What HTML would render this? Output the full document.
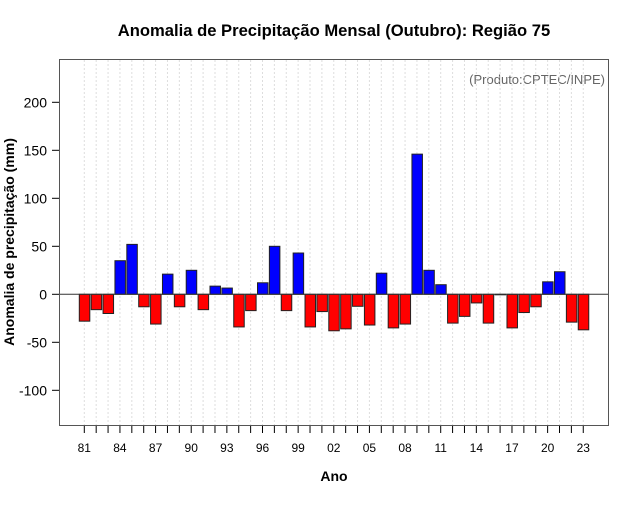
<!DOCTYPE html>
<html><head><meta charset="utf-8"><style>
body{margin:0;background:#fff;font-family:"Liberation Sans",sans-serif}
svg text{font-family:"Liberation Sans",sans-serif}
</style></head><body>
<svg id="chart" width="640" height="500" viewBox="0 0 640 500" xmlns="http://www.w3.org/2000/svg">
<rect width="640" height="500" fill="#fff"/>
<text x="334" y="36" text-anchor="middle" font-size="16.6" font-weight="bold">Anomalia de Precipitação Mensal (Outubro): Região 75</text>
<text x="605" y="84" text-anchor="end" font-size="13" fill="#666">(Produto:CPTEC/INPE)</text>
<text x="334" y="481" text-anchor="middle" font-size="14" font-weight="bold">Ano</text>
<text transform="translate(14,242) rotate(-90)" text-anchor="middle" font-size="14" font-weight="bold">Anomalia de precipitação (mm)</text>
<g id="grid"></g><g id="bars"></g><g id="axes"></g>
<rect x="59.5" y="59.5" width="549" height="366" fill="none" stroke="#555" stroke-width="1"/>
</svg>
<script>
const years=[1981,1982,1983,1984,1985,1986,1987,1988,1989,1990,1991,1992,1993,1994,1995,1996,1997,1998,1999,2000,2001,2002,2003,2004,2005,2006,2007,2008,2009,2010,2011,2012,2013,2014,2015,2016,2017,2018,2019,2020,2021,2022,2023];
const anomalies=[-28,-16,-20,35,52,-13,-31,21,-13,25,-16,8.5,6.5,-34,-17,12,50,-17,43,-34,-18,-38,-36,-12.5,-32,22,-35,-31,146,25,10,-30,-23,-9,-30,-0.5,-35,-19,-13,13,23.5,-29,-37];
const yTicks=[-100,-50,0,50,100,150,200];
const xTickLabels=["81","84","87","90","93","96","99","02","05","08","11","14","17","20","23"];
const NS="http://www.w3.org/2000/svg";
const x=y=>84.3+(y-1981)*11.88;
const yS=v=>294.3-v*0.96;
function mk(t,a,p){const e=document.createElementNS(NS,t);for(const k in a)e.setAttribute(k,a[k]);document.getElementById(p).appendChild(e);return e;}
years.forEach(yr=>{
  const g=mk('line',{x1:x(yr),x2:x(yr),y1:60,y2:425,stroke:'#ddd','stroke-dasharray':'2,2'},'grid');
  
  
  const t=mk('line',{x1:x(yr),x2:x(yr),y1:426,y2:433,stroke:'#000'},'axes');
  
  
});
years.forEach((yr,i)=>{
  const v=anomalies[i];
  const y0=yS(0),y1=yS(v);
  const r=mk('rect',{x:x(yr)-5,y:Math.min(y0,y1),width:10.5,height:Math.max(Math.abs(y1-y0),0.5),fill:v>=0?'#0000ff':'#ff0000',stroke:'#222','stroke-width':1},'bars');
  
  
});
const z=mk('line',{x1:60,x2:608,y1:yS(0),y2:yS(0),stroke:'#333'},'axes');


yTicks.forEach(v=>{
  const t=mk('line',{x1:52,x2:59,y1:yS(v),y2:yS(v),stroke:'#000'},'axes');
  
  
  const l=mk('text',{x:47,y:yS(v)+5,'text-anchor':'end','font-size':14},'axes');
  l.textContent=v;
  
  
});
xTickLabels.forEach((s,i)=>{
  const l=mk('text',{x:x(1981+i*3),y:452,'text-anchor':'middle','font-size':12},'axes');
  l.textContent=s;
  
  
});
</script>
</body></html>
